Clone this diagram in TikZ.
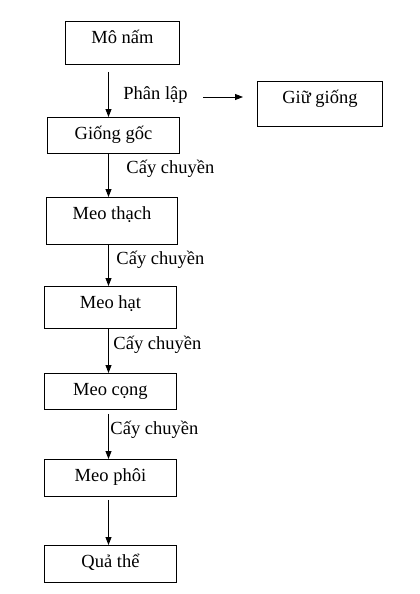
\documentclass[tikz,border=0pt]{standalone}
\usepackage{fontspec}
\setmainfont{Liberation Serif}
\usetikzlibrary{arrows.meta,calc}

\tikzset{
	box/.style={draw, inner sep=0pt, text height=22pt, anchor=north west},
	lbl/.style={inner sep=0pt, anchor=base west},
}

\begin{document}
\begin{tikzpicture}[x=1pt,y=-1pt,line width=0.9pt,font=\fontsize{18.5}{22}\selectfont,>={Triangle[length=8pt,width=6pt]}]
\useasboundingbox (0,0) rectangle (420,594);

\node[box, minimum width=114pt, text depth=21pt] (mo) at (65,21) {Mô nấm};
\node[box, minimum width=132pt, text depth=14pt] (goc) at (47,117) {Giống gốc};
\node[box, minimum width=125pt, text depth=23pt] (giu) at (257,81) {Giữ giống};
\node[box, minimum width=131pt, text depth=25pt] (thach) at (46,197) {Meo thạch};
\node[box, minimum width=132pt, text depth=20pt] (hat) at (44,286) {Meo hạt};
\node[box, minimum width=132pt, text depth=14pt] (cong) at (44,373) {Meo cọng};
\node[box, minimum width=132pt, text depth=15pt] (phoi) at (44,459) {Meo phôi};
\node[box, minimum width=132pt, text depth=15pt] (qua) at (44,545) {Quả thể};

\node[lbl] (pl) at (123,99) {Phân lập};
\node[lbl] (cc1) at (126,173) {Cấy chuyền};
\node[lbl] (cc2) at (116,264) {Cấy chuyền};
\node[lbl] (cc3) at (113,349) {Cấy chuyền};
\node[lbl] (cc4) at (110,434) {Cấy chuyền};

\coordinate (axis) at (108.5,0);
\coordinate (pls) at ($(pl.base east)+(15,-2)$);

\draw[->] ($(mo.south -| axis)+(0,7)$) -- (goc.north -| axis);
\draw[->] (pls) -- ($(giu.west |- pls)+(-14,0)$);
\draw[->] (goc.south -| axis) -- (thach.north -| axis);
\draw[->] (thach.south -| axis) -- (hat.north -| axis);
\draw[->] (hat.south -| axis) -- (cong.north -| axis);
\draw[->] ($(cong.south -| axis)+(0,4)$) -- (phoi.north -| axis);
\draw[->] ($(phoi.south -| axis)+(0,3)$) -- (qua.north -| axis);

\end{tikzpicture}
\end{document}
